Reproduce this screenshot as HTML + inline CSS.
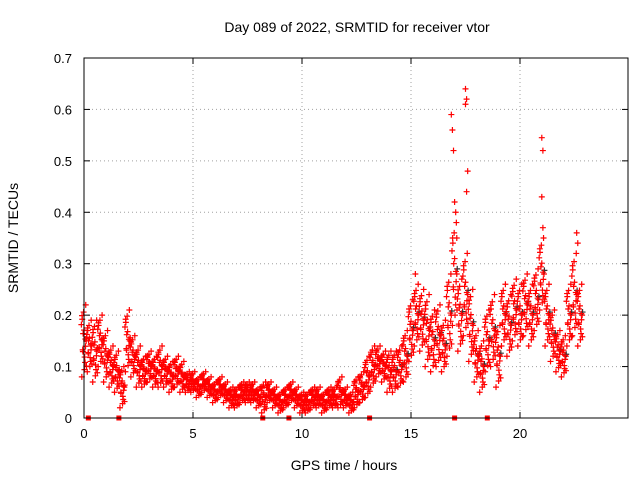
<!DOCTYPE html>
<html><head><meta charset="utf-8"><style>
body{margin:0;background:#fff;}
svg{display:block;font-family:"Liberation Sans",sans-serif;}
</style></head><body>
<svg id="chart" width="640" height="480">
<text x="357" y="32" font-size="14" text-anchor="middle">Day 089 of 2022, SRMTID for receiver vtor</text>
<text x="344" y="470" font-size="14" text-anchor="middle">GPS time / hours</text>
<text x="18" y="238" font-size="14" text-anchor="middle" transform="rotate(-90 18 238)">SRMTID / TECUs</text>
<g id="grid"></g><g id="ticks"></g><g id="marks"></g>
<rect x="84" y="58" width="544" height="360" fill="none" stroke="#000"/>
</svg>
<script>
const xTicks=[0,5,10,15,20];
const yTicks=[0,0.1,0.2,0.3,0.4,0.5,0.6,0.7];
const yTickLabels=["0","0.1","0.2","0.3","0.4","0.5","0.6","0.7"];
const times=[0,0.25,0.5,0.75,1,1.25,1.5,1.75,2,2.25,2.5,2.75,3,3.25,3.5,3.75,4,4.25,4.5,4.75,5,5.25,5.5,5.75,6,6.25,6.5,6.75,7,7.25,7.5,7.75,8,8.25,8.5,8.75,9,9.25,9.5,9.75,10,10.25,10.5,10.75,11,11.25,11.5,11.75,12,12.25,12.5,12.75,13,13.25,13.5,13.75,14,14.25,14.5,14.75,15,15.25,15.5,15.75,16,16.25,16.5,16.75,17,17.25,17.5,17.75,18,18.25,18.5,18.75,19,19.25,19.5,19.75,20,20.25,20.5,20.75,21,21.25,21.5,21.75,22,22.25,22.5,22.75];
const center=[0.15,0.14,0.13,0.15,0.12,0.1,0.09,0.06,0.15,0.12,0.1,0.09,0.1,0.09,0.1,0.09,0.08,0.09,0.08,0.07,0.07,0.06,0.07,0.06,0.05,0.06,0.05,0.04,0.04,0.05,0.05,0.05,0.04,0.04,0.05,0.04,0.03,0.04,0.05,0.04,0.03,0.03,0.04,0.04,0.03,0.04,0.04,0.05,0.04,0.03,0.05,0.06,0.08,0.1,0.11,0.1,0.09,0.09,0.1,0.12,0.17,0.2,0.19,0.17,0.15,0.16,0.14,0.2,0.28,0.2,0.24,0.18,0.12,0.1,0.15,0.17,0.12,0.2,0.18,0.21,0.2,0.22,0.2,0.23,0.28,0.2,0.16,0.13,0.12,0.2,0.24,0.2];
const spread=[0.07,0.05,0.06,0.05,0.05,0.04,0.04,0.04,0.06,0.04,0.04,0.03,0.03,0.03,0.04,0.03,0.03,0.03,0.03,0.02,0.02,0.02,0.02,0.02,0.02,0.02,0.02,0.02,0.02,0.02,0.02,0.02,0.02,0.03,0.02,0.02,0.02,0.02,0.02,0.02,0.02,0.02,0.02,0.02,0.02,0.02,0.02,0.03,0.02,0.02,0.03,0.03,0.04,0.04,0.03,0.03,0.04,0.04,0.04,0.05,0.06,0.06,0.06,0.07,0.06,0.06,0.05,0.08,0.1,0.07,0.08,0.07,0.05,0.05,0.06,0.07,0.06,0.06,0.06,0.06,0.06,0.06,0.06,0.06,0.07,0.06,0.05,0.04,0.04,0.06,0.08,0.06];
const spikeTimes=[16.85,16.9,16.95,17.0,17.05,17.5,17.55,17.5,17.6,17.55,21.0,21.05,21.0,21.05,22.6,22.65,15.2,17.1];
const spikeValues=[0.59,0.56,0.52,0.42,0.40,0.64,0.62,0.61,0.48,0.44,0.545,0.52,0.43,0.37,0.36,0.34,0.28,0.35];
const slipTimes=[0.2,1.6,8.2,9.4,13.1,17.0,18.5];
const NS="http://www.w3.org/2000/svg";
const X=h=>84+h*21.8, Y=v=>418-v*514.3;
function mk(tag,attrs,parent){const e=document.createElementNS(NS,tag);for(const k in attrs)e.setAttribute(k,attrs[k]);parent.appendChild(e);return e;}
const grid=document.getElementById('grid'),ticks=document.getElementById('ticks'),marks=document.getElementById('marks');
xTicks.forEach(t=>{const x=X(t);
 if(t>0){const g=mk('line',{x1:x,y1:58,x2:x,y2:418,stroke:'#a0a0a0','stroke-dasharray':'1,3'},grid);
 
 }
 mk('line',{x1:x,y1:418,x2:x,y2:412,stroke:'#000'},ticks);mk('line',{x1:x,y1:58,x2:x,y2:64,stroke:'#000'},ticks);
 const l=mk('text',{x:x,y:438,'font-size':13,'text-anchor':'middle'},ticks);l.textContent=t;
 
 });
yTicks.forEach((t,i)=>{const y=Y(t);
 if(i>0&&i<yTicks.length-1){const g=mk('line',{x1:84,y1:y,x2:628,y2:y,stroke:'#a0a0a0','stroke-dasharray':'1,3'},grid);
 
 }
 mk('line',{x1:84,y1:y,x2:90,y2:y,stroke:'#000'},ticks);mk('line',{x1:628,y1:y,x2:622,y2:y,stroke:'#000'},ticks);
 const l=mk('text',{x:72,y:y+5,'font-size':13,'text-anchor':'end'},ticks);l.textContent=yTickLabels[i];
 
 });
function plus(h,v,col){const x=X(h),y=Y(Math.max(0,v));
 const p=mk('path',{d:`M${x-3},${y}h6M${x},${y-3}v6`,stroke:col,'stroke-width':1.2},marks);
 
 }
const offs=[-1,-0.6,-0.3,0,0.3,0.6,1,-0.8,0.8,0.1,-0.45,0.45,-0.15,0.2,-0.7,0.7,0.05,-0.25];
const dt=[-0.1,0.05,-0.05,0.1,0,-0.08,0.08,0.02,-0.02,0.12,0.03,-0.12,0.07,-0.04,0.11,-0.09,0.06,-0.06];
times.forEach((t,i)=>{offs.forEach((o,k)=>{plus(t+dt[k],center[i]+o*spread[i],k===9&&t>14?'#333':'#f00');});});
spikeTimes.forEach((t,i)=>plus(t,spikeValues[i],'#f00'));
slipTimes.forEach(t=>{const r=mk('rect',{x:X(t)-2.5,y:415.5,width:5,height:5,fill:'#f00'},marks);
 
 });
</script>
</body></html>
